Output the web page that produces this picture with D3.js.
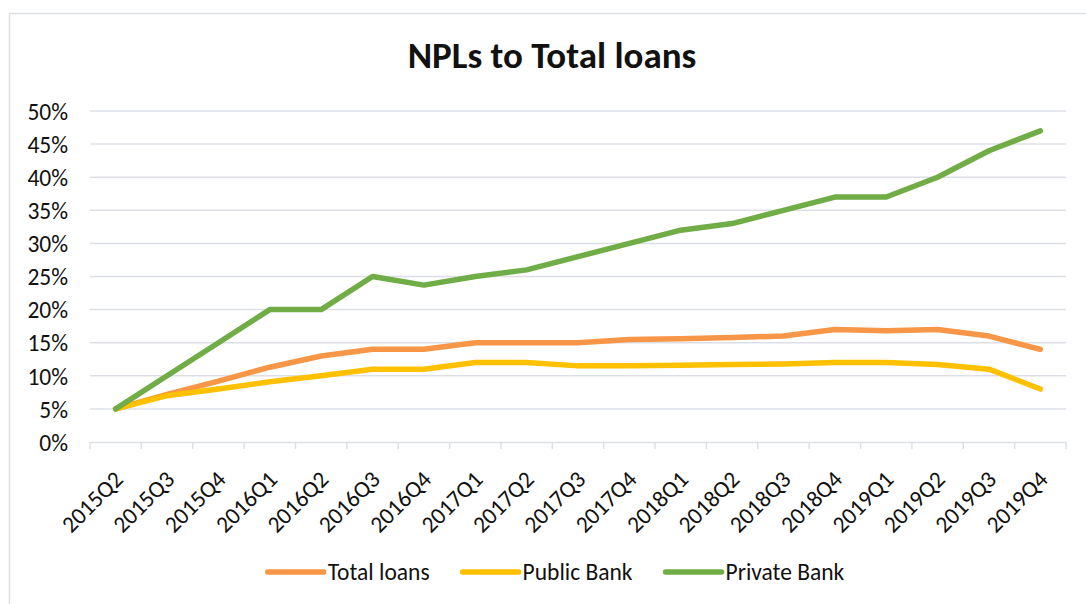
<!DOCTYPE html>
<html>
<head>
<meta charset="utf-8">
<script src="https://cdn.jsdelivr.net/npm/d3@7"></script>
<style>
  body { margin: 0; background: #fff; }
  svg text { font-family: Carlito, Calibri, Lato, sans-serif; fill: #111; }
</style>
</head>
<body>
<div id="chart"></div>
<script>
// quarters on the x axis
var quarters = ['2015Q2','2015Q3','2015Q4','2016Q1','2016Q2','2016Q3','2016Q4',
  '2017Q1','2017Q2','2017Q3','2017Q4','2018Q1','2018Q2','2018Q3','2018Q4',
  '2019Q1','2019Q2','2019Q3','2019Q4'];

// NPL ratios in percent
var totalLoans  = [5, 7.2, 9.2, 11.3, 13, 14, 14, 15, 15, 15, 15.5, 15.6, 15.8, 16, 17, 16.8, 17, 16, 14];
var publicBank  = [5, 7, 8, 9.1, 10, 11, 11, 12, 12, 11.5, 11.5, 11.6, 11.7, 11.8, 12, 12, 11.7, 11, 8];
var privateBank = [5, 10, 15, 20, 20, 25, 23.7, 25, 26, 28, 30, 32, 33, 35, 37, 37, 40, 44, 47];

var yTicks = [0, 5, 10, 15, 20, 25, 30, 35, 40, 45, 50];

var seriesNames = ['Total loans', 'Public Bank', 'Private Bank'];
var colors = ['#F79646', '#FFC000', '#70AD47'];

var series = [totalLoans, publicBank, privateBank].map(function(vals, i) {
  return { name: seriesNames[i], color: colors[i], values: vals };
});

var svgWidth = 1086, svgHeight = 604;
var margin = { top: 111, right: 20, bottom: 162, left: 90 };
var width = 1066 - margin.left;
var height = 442 - margin.top;

var svg = d3.select('#chart').append('svg')
  .attr('width', svgWidth)
  .attr('height', svgHeight);

// chart frame
svg.append('rect')
  .attr('x', 9.5).attr('y', 13.5)
  .attr('width', 1100).attr('height', 700)
  .attr('fill', 'none')
  .attr('stroke', '#DCE0E6')
  .attr('stroke-width', 1.5);

svg.append('text')
  .attr('x', 552).attr('y', 68)
  .attr('text-anchor', 'middle')
  .style('font-size', '37px')
  .style('font-weight', 'bold')
  .text('NPLs to Total loans');

var g = svg.append('g')
  .attr('transform', `translate(${margin.left}, ${margin.top})`);

var x = d3.scaleBand().domain(quarters).range([0, width]);
var y = d3.scaleLinear().domain([0, 50]).range([height, 0]);

// gridlines
g.append('g')
  .selectAll('line')
  .data(yTicks.slice(1))
  .enter().append('line')
  .attr('x1', 0).attr('x2', width)
  .attr('y1', d => y(d)).attr('y2', d => y(d))
  .attr('stroke', '#DCE0E6')
  .attr('stroke-width', 1.5);

// y axis labels
var yAxis = d3.axisLeft(y).tickValues(yTicks).tickSize(0).tickPadding(22)
  .tickFormat(d => d + '%');
g.append('g').call(yAxis)
  .call(s => s.select('.domain').remove())
  .selectAll('text')
  .style('font-size', '23.5px')
  .attr('dy', '0.35em');

// x axis
var xAxis = d3.axisBottom(x).tickSizeOuter(0).tickSize(0).tickFormat('');
var xg = g.append('g')
  .attr('transform', `translate(0, ${height})`)
  .call(xAxis);
xg.select('.domain').attr('stroke', '#DCE0E6').attr('stroke-width', 1.5);

// tick marks between categories
var edges = quarters.map(q => x(q)).concat([width]);
xg.selectAll('.sep')
  .data(edges)
  .enter().append('line')
  .attr('class', 'sep')
  .attr('x1', d => d).attr('x2', d => d)
  .attr('y1', 0).attr('y2', 7)
  .attr('stroke', '#DCE0E6')
  .attr('stroke-width', 1.5);

xg.selectAll('.qlabel')
  .data(quarters)
  .enter().append('text')
  .attr('class', 'qlabel')
  .attr('transform', d => `translate(${x(d) + x.bandwidth() / 2 + 3}, 33) rotate(-45)`)
  .attr('text-anchor', 'end')
  .attr('dy', '0.35em')
  .style('font-size', '23.5px')
  .text(d => d);

// lines
var line = d3.line()
  .x((d, i) => x(quarters[i]) + x.bandwidth() / 2)
  .y(d => y(d));

g.selectAll('.series')
  .data(series)
  .enter().append('path')
  .attr('class', 'series')
  .attr('d', d => line(d.values))
  .attr('fill', 'none')
  .attr('stroke', d => d.color)
  .attr('stroke-width', 5.5)
  .attr('stroke-linecap', 'round')
  .attr('stroke-linejoin', 'round');

// legend
var legend = svg.append('g');
var lx = 0;
series.forEach(function(s) {
  var item = legend.append('g').attr('transform', `translate(${lx}, 0)`);
  item.append('line')
    .attr('x1', 0).attr('x2', 56)
    .attr('y1', 0).attr('y2', 0)
    .attr('stroke', s.color)
    .attr('stroke-width', 5.5)
    .attr('stroke-linecap', 'round');
  var t = item.append('text')
    .attr('x', 60).attr('y', 0)
    .attr('dy', '0.35em')
    .style('font-size', '23.5px')
    .text(s.name);
  lx += 60 + t.node().getComputedTextLength() + 33;
});
var legendW = lx - 33;
legend.attr('transform', `translate(${556 - legendW / 2}, 572)`);
</script>
</body>
</html>
